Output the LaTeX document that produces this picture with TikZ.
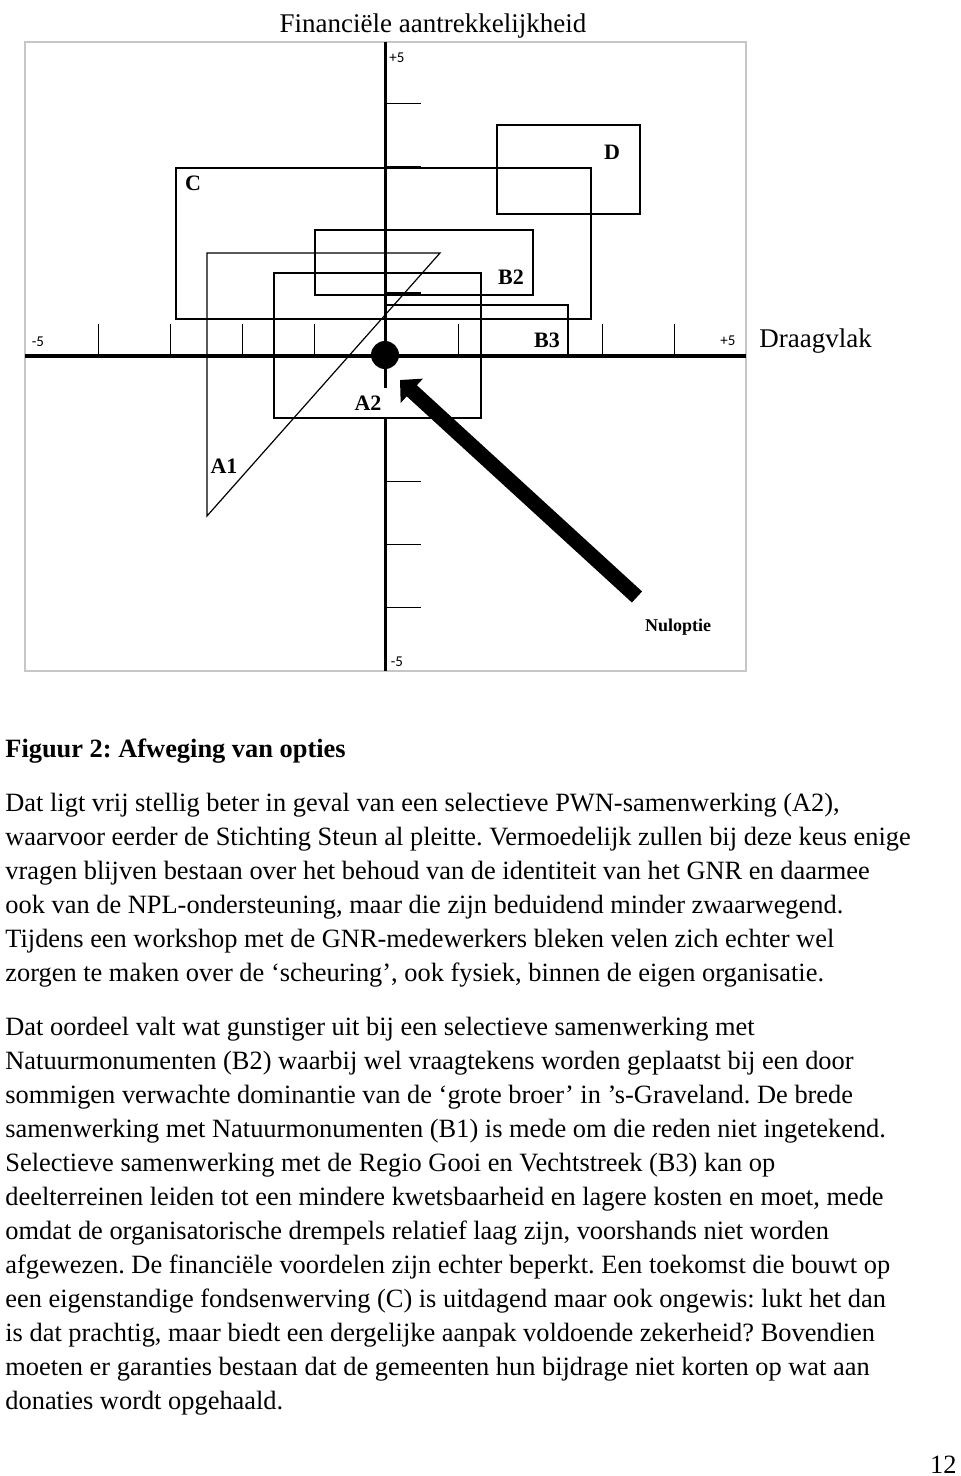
\documentclass[tikz,border=0pt]{standalone}
\usepackage{fontspec}
\setmainfont{Liberation Serif}
\setsansfont{Carlito}
\usetikzlibrary{arrows.meta}
\frenchspacing
\newcommand{\optie}[3]{
	\node[font=\fontsize{11}{13}\selectfont\bfseries, inner sep=0pt] (#1) at (#2) {#3};
}
\newcommand{\schaal}[3]{
	\node[font=\sffamily\fontsize{7.5}{8}\selectfont, inner sep=0pt] (#1) at (#2) {#3};
}
\newcommand{\regel}[3]{
	\node[anchor=base west, inner sep=0pt, font=\fontsize{13.2}{15}\selectfont] (#1) at (5,#2) {#3};
}

\begin{document}
\begin{tikzpicture}[x=0.5pt, y=-0.5pt]
		\useasboundingbox (0,0) rectangle (960,1476);
		\draw[gray!45, line width=0.6pt] (25,42) rectangle (746,671);

		% opties
		\draw[line width=0.6pt] (497,125) rectangle (640,214);
		\draw[line width=0.6pt] (176,168) rectangle (591,319);
		\draw[line width=0.6pt] (315,230) rectangle (533,295);
		\draw[line width=0.6pt] (274,273) rectangle (481,418);
		\draw[line width=0.6pt] (385,305) rectangle (568,356);
		\draw[line width=0.6pt] (207,253) -- (440,253) -- (207,516) -- cycle;

		% assen
		\foreach \x in {98,170,242,314,458,602,674}
			\draw[line width=0.5pt] (\x,324) -- (\x,356);
		\foreach \y in {104,167,481,544,607}
			\draw[line width=0.5pt] (385,\y) -- (421,\y);
		\foreach \y in {230,293,418}
			\draw[line width=1.3pt] (385,\y) -- (421,\y);
		\draw[line width=2pt] (25,356) -- (746,356);
		\draw[line width=1.5pt] (385,42) -- (385,388);
		\draw[line width=1.5pt] (385,417) -- (385,671);

		\node[circle, fill, inner sep=0pt, minimum size=14pt] (nul) at (385,355) {};
		\coordinate (start) at (637,597);
		\coordinate (punt) at (400,380);
		\draw[line width=7.5pt, -{Triangle[length=8pt, width=16pt]}] (start) -- (punt);

		\schaal{plusy}{397,58}{+5}
		\schaal{miny}{397,662}{-5}
		\schaal{minx}{38,342}{-5}
		\schaal{plusx}{728,341}{+5}

		\node[font=\fontsize{13.5}{15}\selectfont, anchor=base] (fin) at (433,33) {Financiële aantrekkelijkheid};
		\node[font=\fontsize{13.5}{15}\selectfont, anchor=base west, inner sep=0pt] (draag) at (759,348) {Draagvlak};

		\optie{c}{193,183}{C}
		\optie{d}{612,152}{D}
		\optie{b2}{511,277}{B2}
		\optie{b3}{547,340}{B3}
		\optie{a1}{224,466}{A1}
		\optie{a2}{368,403}{A2}
		\node[font=\fontsize{9}{11}\selectfont\bfseries, inner sep=0pt] (nuloptie) at (678,627) {Nuloptie};

		% tekst
		\node[anchor=base west, inner sep=0pt, font=\fontsize{13.2}{15}\selectfont\bfseries] (kop) at (5,757) {Figuur 2: Afweging van opties};

		\regel{r1}{811}{Dat ligt vrij stellig beter in geval van een selectieve PWN-samenwerking (A2),}
		\regel{r2}{845}{waarvoor eerder de Stichting Steun al pleitte. Vermoedelijk zullen bij deze keus enige}
		\regel{r3}{879}{vragen blijven bestaan over het behoud van de identiteit van het GNR en daarmee}
		\regel{r4}{913}{ook van de NPL-ondersteuning, maar die zijn beduidend minder zwaarwegend.}
		\regel{r5}{947}{Tijdens een workshop met de GNR-medewerkers bleken velen zich echter wel}
		\regel{r6}{981}{zorgen te maken over de ‘scheuring’, ook fysiek, binnen de eigen organisatie.}

		\regel{s1}{1035}{Dat oordeel valt wat gunstiger uit bij een selectieve samenwerking met}
		\regel{s2}{1069}{Natuurmonumenten (B2) waarbij wel vraagtekens worden geplaatst bij een door}
		\regel{s3}{1103}{sommigen verwachte dominantie van de ‘grote broer’ in ’s-Graveland. De brede}
		\regel{s4}{1137}{samenwerking met Natuurmonumenten (B1) is mede om die reden niet ingetekend.}
		\regel{s5}{1171}{Selectieve samenwerking met de Regio Gooi en Vechtstreek (B3) kan op}
		\regel{s6}{1205}{deelterreinen leiden tot een mindere kwetsbaarheid en lagere kosten en moet, mede}
		\regel{s7}{1239}{omdat de organisatorische drempels relatief laag zijn, voorshands niet worden}
		\regel{s8}{1273}{afgewezen. De financiële voordelen zijn echter beperkt. Een toekomst die bouwt op}
		\regel{s9}{1307}{een eigenstandige fondsenwerving (C) is uitdagend maar ook ongewis: lukt het dan}
		\regel{s10}{1341}{is dat prachtig, maar biedt een dergelijke aanpak voldoende zekerheid? Bovendien}
		\regel{s11}{1375}{moeten er garanties bestaan dat de gemeenten hun bijdrage niet korten op wat aan}
		\regel{s12}{1409}{donaties wordt opgehaald.}

		\node[anchor=base east, inner sep=0pt, font=\fontsize{13.2}{15}\selectfont] (blz) at (957,1473) {12};
\end{tikzpicture}
\end{document}
